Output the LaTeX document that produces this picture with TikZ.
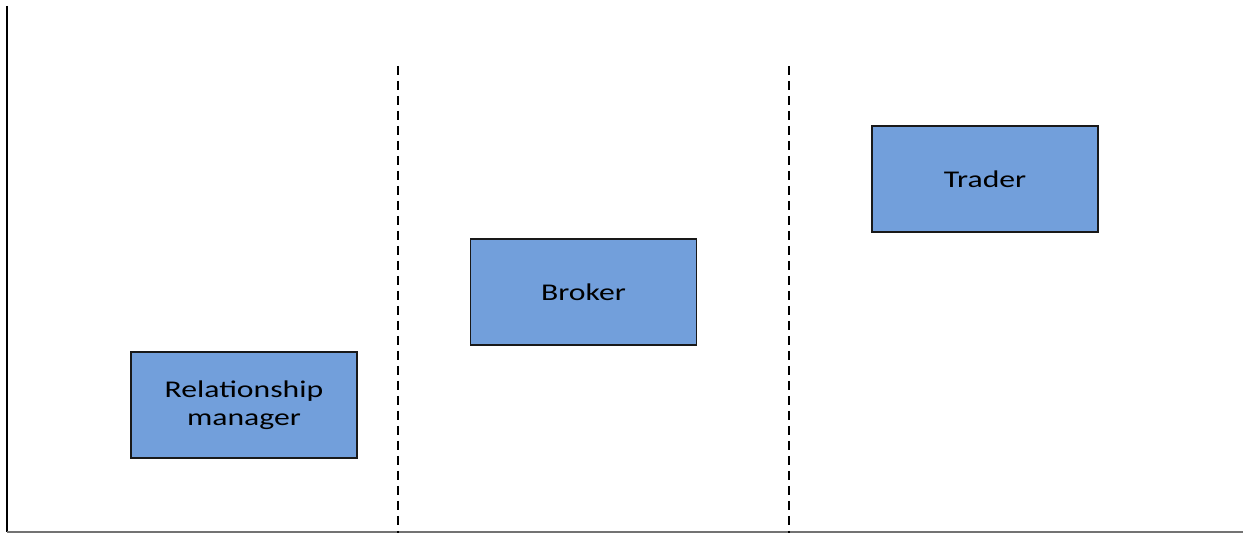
\documentclass[tikz,border=0pt]{standalone}
\usepackage{fontspec}
\setmainfont{Carlito}[FakeStretch=1.32]
\usepackage{tikz}

\begin{document}
\begin{tikzpicture}[x=0.5pt, y=-0.5pt,
    role/.style ={rectangle, draw=black!90, fill=roleblue, line width=0.6pt,
      minimum width=113pt, minimum height=53pt, align=center,
      font=\fontsize{12}{14}\selectfont, inner sep=0pt},
    divider/.style ={dash pattern=on 4.5pt off 3pt, line width=0.7pt}]
   \definecolor{roleblue}{RGB}{114,159,219}
   \useasboundingbox (0,0) rectangle (1243,533);
   \coordinate (top) at (7,6);
   \coordinate (origin) at (7,532);
   \coordinate (end) at (1243,532);
   \coordinate (D1a) at (398,66);
   \coordinate (D1b) at (398,533);
   \coordinate (D2a) at (789,66);
   \coordinate (D2b) at (789,533);
   \draw[line width=1pt] (top) to (origin);
   \draw[line width=0.8pt, black!55] (origin) to (end);
   \draw[divider] (D1a) to (D1b);
   \draw[divider] (D2a) to (D2b);
   \node[role] (R) at (244,405) {Relationship\\manager};
   \node[role] (B) at (583.5,292) {Broker};
   \node[role] (T) at (985,179) {Trader};
 \end{tikzpicture}
\end{document}
